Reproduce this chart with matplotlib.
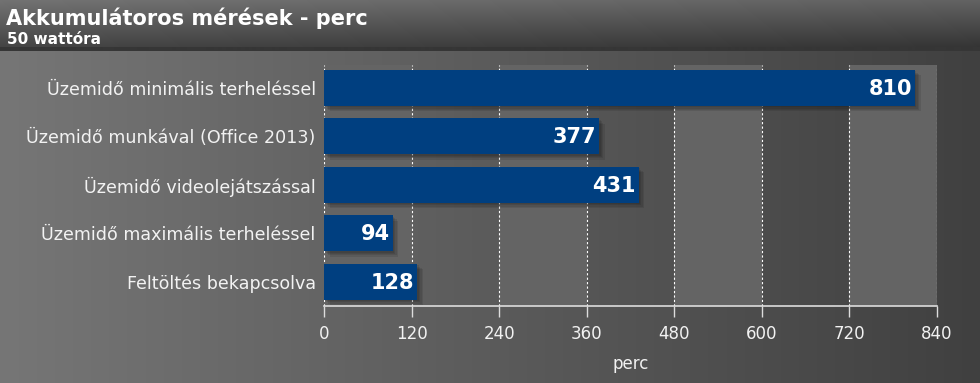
import numpy as np
import matplotlib
matplotlib.use("Agg")
import matplotlib.pyplot as plt
import matplotlib.patheffects as pe

# adatok
labels = ["Üzemidő minimális terheléssel",
          "Üzemidő munkával (Office 2013)",
          "Üzemidő videolejátszással",
          "Üzemidő maximális terheléssel",
          "Feltöltés bekapcsolva"]
values = [810, 377, 431, 94, 128]
ticks = [0, 120, 240, 360, 480, 600, 720, 840]

title = "Akkumulátoros mérések - perc"
subtitle = "50 wattóra"
xlab = "perc"

W, H = 980, 383
fig = plt.figure(figsize=(W / 100, H / 100), dpi=100)

# hatter: vizszintes szurke atmenet + fejlec savja
bg = fig.add_axes([0, 0, 1, 1], zorder=-10)
xx = np.linspace(0, 1, W)
img = np.zeros((H, W))
img[:, :] = 0x76 - (0x76 - 0x40) * xx
hdr = 50
yy = np.linspace(0, 1, hdr)[:, None]
img[:hdr, :] = (0x72 - 0x30 * yy) - 0x10 * xx[None, :]
img[hdr - 3:hdr + 1, :] = 0x36
img = np.clip(img, 0, 255) / 255.0
bg.imshow(np.dstack([img, img, img]), aspect="auto", extent=[0, 1, 0, 1])
bg.axis("off")

fig.text(6 / W, 1 - 18 / H, title, color="white", fontsize=15, fontweight="bold",
         va="center", ha="left")
fig.text(7 / W, 1 - 39 / H, subtitle, color="white", fontsize=11, fontweight="bold",
         va="center", ha="left")

ax = fig.add_axes([324 / W, 77 / H, 613 / W, 241 / H])
ax.set_facecolor("none")

# varialt savok
for i in range(0, len(ticks) - 1, 2):
    ax.axvspan(ticks[i], ticks[i + 1], color="#646464", zorder=0, lw=0)

for t in ticks:
    ax.axvline(t, color="white", lw=0.8, ls=(0, (2, 2)), zorder=1)

# elmosott arnyek tobb retegbol
shadow = [pe.SimplePatchShadow(offset=(o, -o), shadow_rgbFace="black", alpha=0.09)
          for o in (1.0, 2.0, 3.0, 4.0)]

y = np.arange(len(labels))
bars = ax.barh(y, values, height=0.74, color="#003f80", zorder=3)
for b in bars:
    b.set_path_effects(shadow + [pe.Normal()])

for yi, v in zip(y, values):
    ax.text(v - 4, yi + 0.02, str(v), color="white", fontsize=15, fontweight="bold",
            ha="right", va="center", zorder=4)

ax.set_xlim(0, 840)
ax.set_ylim(len(labels) - 0.5, -0.47)
ax.set_yticks(y)
ax.set_yticklabels(labels, color="#f2f2f2", fontsize=12.6)
ax.set_xticks(ticks)
ax.set_xticklabels([str(t) for t in ticks], color="#f2f2f2", fontsize=12)
ax.tick_params(axis="y", length=0, pad=6)
ax.tick_params(axis="x", length=8, width=1, color="#dddddd", pad=6)
ax.set_xlabel(xlab, color="#f2f2f2", fontsize=12, labelpad=8)

for s in ["top", "right", "left"]:
    ax.spines[s].set_visible(False)
ax.spines["bottom"].set_color("#dddddd")
ax.spines["bottom"].set_linewidth(1.2)

fig.savefig("out.png", dpi=100)
